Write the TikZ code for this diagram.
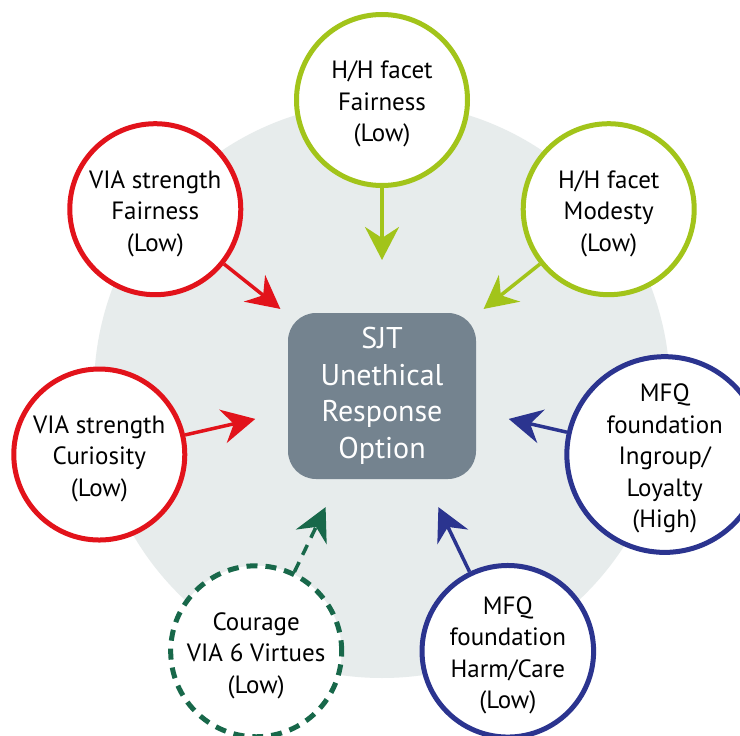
\documentclass[tikz,border=0pt]{standalone}
\usepackage{fontspec}
\setmainfont{PT Sans}
\usetikzlibrary{arrows.meta}
\definecolor{bgdisc}{HTML}{E7ECEC}
\definecolor{boxgray}{HTML}{74838F}
\definecolor{viared}{HTML}{E2131B}
\definecolor{hhgreen}{HTML}{A2C41A}
\definecolor{mfqblue}{HTML}{2B348F}
\definecolor{virtuegreen}{HTML}{18684A}
% centred stack of lines, set a little below the optical middle
\newcommand{\stacklines}[1]{\raisebox{-4pt}[\height][\depth]{%
  \begin{tabular}{@{}c@{}}#1\end{tabular}}}
\begin{document}
\begin{tikzpicture}[x=1pt,y=-1pt,
  factor/.style={circle, draw=#1, line width=5pt, fill=white,
    minimum size=171pt, inner sep=0pt, text=black,
    font=\fontsize{25}{31.5}\selectfont},
  link/.style={draw=#1, line width=3.5pt,
    -{Stealth[length=33pt,width=34pt,inset=11pt]}},
  dashline/.style={dash pattern=on 11pt off 8pt}]
  \useasboundingbox (0,0) rectangle (740,736);
  \fill[white] (0,0) rectangle (740,736);
  % background disc
  \fill[bgdisc] (382,390) circle (288pt);
  % central outcome
  \node[fill=boxgray, rounded corners=28pt, minimum width=188pt,
    minimum height=166pt, text=white, align=center,
    font=\fontsize{30}{36.5}\selectfont] (sjt) at (382,396)
    {SJT\\Unethical\\Response\\Option};
  % predictors, evenly spaced on a ring of radius 290
  \node[factor=hhgreen] (hhfair) at ({382+290*cos(90)},{390-290*sin(90)})
    {\stacklines{H/H facet\\Fairness\\(Low)}};
  \node[factor=hhgreen] (hhmod) at ({382+290*cos(38.571)},{390-290*sin(38.571)})
    {\stacklines{H/H facet\\Modesty\\(Low)}};
  \node[factor=mfqblue] (ingroup) at ({382+290*cos(-12.857)},{390-290*sin(-12.857)})
    {\stacklines{MFQ\\foundation\\Ingroup/\\Loyalty\\(High)}};
  \node[factor=mfqblue] (harm) at ({382+290*cos(-64.286)},{390-290*sin(-64.286)})
    {\stacklines{MFQ\\foundation\\Harm/Care\\(Low)}};
  \node[factor=virtuegreen, dashline] (courage) at ({382+290*cos(-115.714)},{390-290*sin(-115.714)})
    {\stacklines{Courage\\VIA 6 Virtues\\(Low)}};
  \node[factor=viared] (curio) at ({382+290*cos(192.857)},{390-290*sin(192.857)})
    {\stacklines{VIA strength\\Curiosity\\(Low)}};
  \node[factor=viared] (viafair) at ({382+290*cos(141.429)},{390-290*sin(141.429)})
    {\stacklines{VIA strength\\Fairness\\(Low)}};
  % arrow tips around the outcome
  \coordinate (tA) at ({382+130*cos(90)},{390-130*sin(90)});
  \coordinate (tB) at ({382+130*cos(38.571)},{390-130*sin(38.571)});
  \coordinate (tC) at ({382+130*cos(-12.857)},{390-130*sin(-12.857)});
  \coordinate (tD) at ({382+130*cos(-64.286)},{390-130*sin(-64.286)});
  \coordinate (tE) at ({382+130*cos(-115.714)},{390-130*sin(-115.714)});
  \coordinate (tF) at ({382+130*cos(192.857)},{390-130*sin(192.857)});
  \coordinate (tG) at ({382+130*cos(141.429)},{390-130*sin(141.429)});
  \draw[link=hhgreen] (hhfair) -- (tA);
  \draw[link=hhgreen] (hhmod) -- (tB);
  \draw[link=mfqblue] (ingroup) -- (tC);
  \draw[link=mfqblue] (harm) -- (tD);
  \draw[link=virtuegreen, dashline] (courage) -- (tE);
  \draw[link=viared] (curio) -- (tF);
  \draw[link=viared] (viafair) -- (tG);
\end{tikzpicture}
\end{document}
